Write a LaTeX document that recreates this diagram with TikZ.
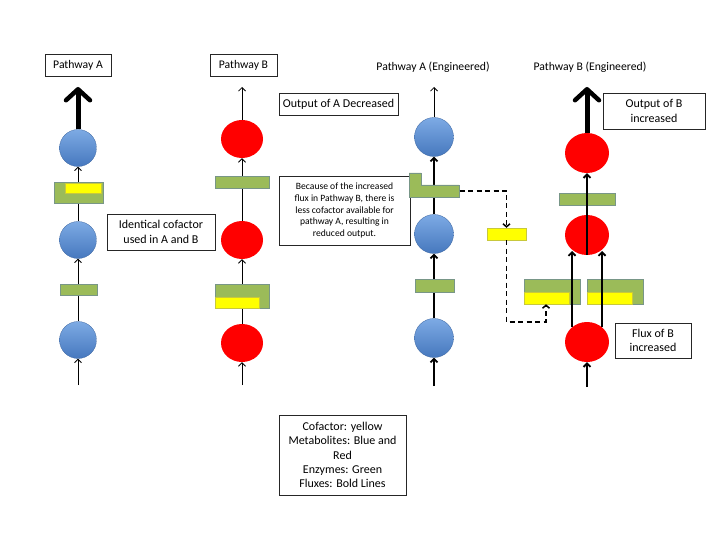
\documentclass[tikz,border=0pt]{standalone}
\usepackage{fontspec}
\setmainfont{Carlito}
\usetikzlibrary{arrows.meta,shapes.geometric}
\definecolor{enzG}{RGB}{155,187,89}
\definecolor{enzE}{RGB}{120,150,135}
\definecolor{cofY}{RGB}{255,255,0}
\definecolor{cofE}{RGB}{200,200,60}
\definecolor{metB}{RGB}{70,120,190}
\definecolor{metBtop}{RGB}{125,170,228}
\definecolor{metR}{RGB}{255,0,0}
\begin{document}
\begin{tikzpicture}[x=1pt,y=-1pt,
 bluemet/.style={circle, minimum size=37pt, inner sep=0pt, top color=metBtop, bottom color=metB, draw=metB!85!black, line width=0.3pt},
 redmet/.style={ellipse, minimum width=42pt, minimum height=38pt, inner sep=0pt, fill=metR},
 enzyme/.style={rectangle, inner sep=0pt, fill=enzG, draw=enzE, line width=0.5pt},
 cofactor/.style={rectangle, inner sep=0pt, fill=cofY, draw=cofE, line width=0.4pt},
 flux/.style={line width=0.8pt, -{Straight Barb[length=3.5pt,width=7pt]}},
 boldflux/.style={line width=1.8pt, -{Straight Barb[length=3.5pt,width=7pt]}},
 bigflux/.style={line width=5pt, -{Straight Barb[length=11pt,width=24pt,line width=4.5pt,round]}},
 labelbox/.style={draw=black!85, line width=0.7pt, align=center, inner sep=0pt, font=\fontsize{12}{14.4}\selectfont},
 titletext/.style={font=\fontsize{11.7}{14}\selectfont},
 dashedlink/.style={dash pattern=on 5pt off 3.5pt, line width=1.5pt},
 dashtip/.style={-{Straight Barb[length=3pt,width=7pt]}}
]
\fill[white] (0,0) rectangle (720,540);
\useasboundingbox (0,0) rectangle (720,540);

% ---------- Pathway A ----------
\node[labelbox, titletext, minimum width=66pt, minimum height=22pt] (tA) at (78,65) {Pathway A};
\node[bluemet] (A1) at (78,148) {};
\node[bluemet] (A2) at (78,240) {};
\node[bluemet] (A3) at (78,340) {};
\coordinate (A0) at (78,385);
\coordinate (Aout) at (78,87);
\draw[flux] (A0) -- (A3);
\draw[flux] (A3) -- (A2);
\draw[flux] (A2) -- (A1);
\node[enzyme, minimum width=37pt, minimum height=11pt] (eA1) at (78.5,289.5) {};
\node[enzyme, minimum width=49pt, minimum height=21pt] (eA2) at (78.5,193) {};
\node[cofactor, minimum width=36pt, minimum height=10pt] (cA2) at (83.5,188) {};
\draw[bigflux] (A1) -- (Aout);

% ---------- Pathway B ----------
\node[labelbox, titletext, minimum width=67pt, minimum height=22pt] (tB) at (243.5,65) {Pathway B};
\node[redmet] (B1) at (242,139) {};
\node[redmet] (B2) at (242,240) {};
\node[redmet] (B3) at (242,343) {};
\coordinate (B0) at (242,385);
\coordinate (Bout) at (242,87);
\draw[flux] (B0) -- (B3);
\draw[flux] (B3) -- (B2);
\draw[flux] (B2) -- (B1);
\draw[flux] (B1) -- (Bout);
\node[enzyme, minimum width=54pt, minimum height=12pt] (eB1) at (242,182) {};
\node[enzyme, minimum width=54pt, minimum height=24pt] (eB2) at (242,296) {};
\node[cofactor, minimum width=44pt, minimum height=11pt] (cB2) at (237,302.5) {};

% ---------- text boxes, middle ----------
\node[labelbox, minimum width=119pt, minimum height=22pt] (outA) at (338.5,104) {Output of A Decreased};
\node[labelbox, minimum width=131pt, minimum height=69pt, font=\fontsize{9.6}{11.7}\selectfont] (because) at (344.5,210.5)
 {Because of the increased\\flux in Pathway B, there is\\less cofactor available for\\pathway A, resulting in\\reduced output.};
\node[labelbox, minimum width=108pt, minimum height=36pt] (ident) at (161,232) {Identical cofactor\\used in A and B};
\node[labelbox, minimum width=127pt, minimum height=80pt] (legend) at (342.5,455)
 {Cofactor: yellow\\Metabolites: Blue and\\Red\\Enzymes: Green\\Fluxes: Bold Lines};

% ---------- Pathway A (Engineered) ----------
\node[titletext] (tEA) at (433,67) {Pathway A (Engineered)};
\node[bluemet, minimum size=39pt] (EA1) at (434,137) {};
\node[bluemet, minimum size=39pt] (EA2) at (434,234) {};
\node[bluemet, minimum size=39pt] (EA3) at (434,338) {};
\coordinate (EA0) at (434,386);
\coordinate (EAout) at (434,87);
\draw[boldflux] (EA0) -- (EA3);
\draw[boldflux] (EA3) -- (EA2);
\draw[boldflux] (EA2) -- (EA1);
\draw[flux] (EA1) -- (EAout);
\node[enzyme, minimum width=39pt, minimum height=13pt] (eEA1) at (434.5,285.5) {};
\filldraw[fill=enzG, draw=enzE, line width=0.5pt] (409,173) -- (421,173) -- (421,185) -- (459,185) -- (459,197) -- (409,197) -- cycle;
\coordinate (Lout) at (459.5,191);
\node[cofactor, minimum width=39pt, minimum height=12pt] (Y) at (506.5,234) {};

% ---------- Pathway B (Engineered) ----------
\node[titletext] (tEB) at (590,67) {Pathway B (Engineered)};
\node[redmet, minimum width=44pt, minimum height=40pt] (EB1) at (587,153) {};
\node[redmet, minimum width=44pt, minimum height=40pt] (EB2) at (587,235) {};
\node[redmet, minimum width=44pt, minimum height=40pt] (EB3) at (587,342) {};
\node[enzyme, minimum width=56pt, minimum height=12pt] (eEB1) at (587,199) {};
\node[enzyme, minimum width=56pt, minimum height=25pt] (eEBL) at (552,291.5) {};
\node[cofactor, minimum width=45pt, minimum height=12pt] (cEBL) at (546.5,298) {};
\node[enzyme, minimum width=56pt, minimum height=25pt] (eEBR) at (615,291.5) {};
\node[cofactor, minimum width=45pt, minimum height=12pt] (cEBR) at (609.5,298) {};
\coordinate (EB0) at (587,387);
\coordinate (EBout) at (587,87);
\coordinate (bl0) at (572,327);
\coordinate (bl1) at (572,251);
\coordinate (br0) at (602,327);
\coordinate (br1) at (602,251);
\draw[boldflux] (EB0) -- (EB3);
\draw[boldflux] (bl0) -- (bl1);
\draw[boldflux] (br0) -- (br1);
\draw[boldflux] (EB2.south) -- (EB1);
\draw[bigflux] (EB1) -- (EBout);

\node[labelbox, minimum width=102pt, minimum height=36pt] (outB) at (654,111) {Output of B\\increased};
\node[labelbox, minimum width=76pt, minimum height=35pt] (fluxB) at (653,340.5) {Flux of B\\increased};

% ---------- dashed cofactor transfer ----------
\coordinate (dc) at (546,322);
\draw[dashedlink, dashtip] (Lout) -| (Y);
\draw[dashedlink, dashtip] (Y) |- (dc) -- (dc |- eEBL.south);
\end{tikzpicture}
\end{document}
